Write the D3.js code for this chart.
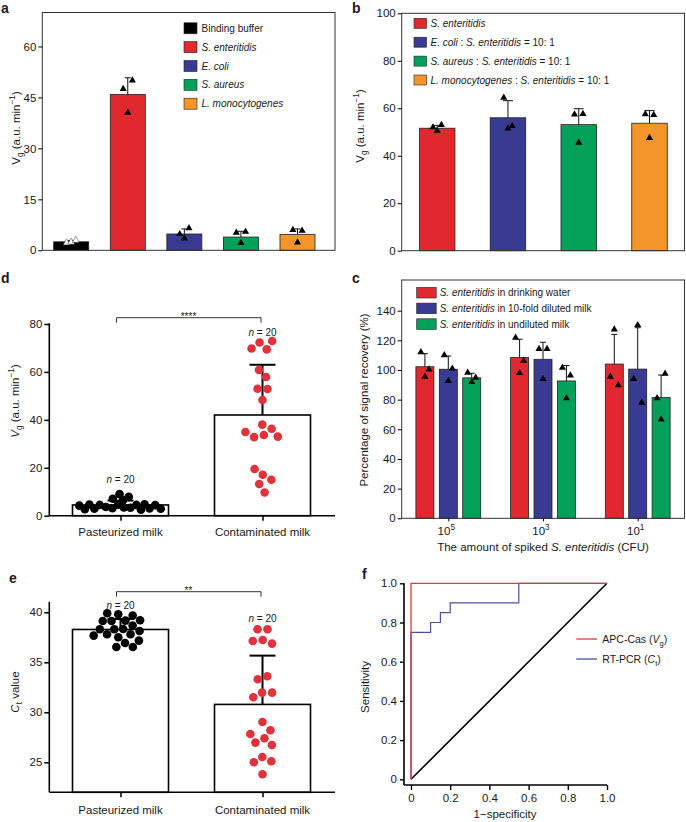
<!DOCTYPE html>
<html><head><meta charset="utf-8">
<script src="https://cdn.jsdelivr.net/npm/d3@7"></script>
<style>
body{margin:0;background:#fff}
svg{display:block}
text{font-family:"Liberation Sans",Arial,Helvetica,sans-serif;fill:#1a1a1a}
</style>
</head><body>
<svg id="fig" width="686" height="822"></svg>
<script>
// ---------------- DATA ----------------
// Panel a
const aCategories = ["Binding buffer", "*S. enteritidis*", "*E. coli*", "*S. aureus*", "*L. monocytogenes*"];
const aMeans = [2.5, 45.9, 4.8, 3.9, 4.7];
const aErrTop = [2.9, 50.8, 6.3, 5.6, 6.3];
const aPoints = [[2.2, 2.4, 2.9], [47.5, 40.5, 50.0], [4.8, 3.5, 6.5], [5.2, 2.2, 5.5], [6.0, 2.3, 5.8]];
const aYTicks = [0, 15, 30, 45, 60];

// Panel b
const bCategories = ["*S. enteritidis*", "*E. coli* : *S. enteritidis* = 10: 1", "*S. aureus* : *S. enteritidis* = 10: 1", "*L. monocytogenes* : *S. enteritidis* = 10: 1"];
const bMeans = [51.6, 56.0, 53.1, 53.7];
const bErrTop = [52.8, 63.2, 59.8, 59.0];
const bPoints = [[52.0, 50.5, 53.0], [64.5, 51.5, 52.5], [57.4, 45.5, 57.6], [57.5, 47.5, 57.2]];
const bYTicks = [0, 20, 40, 60, 80, 100];

// Panel c
const cGroups = ["10^{5}", "10^{3}", "10^{1}"];
const cSeries = ["*S. enteritidis* in drinking water", "*S. enteritidis* in 10-fold diluted milk", "*S. enteritidis* in undiluted milk"];
const cWaterMeans = [102.2, 108.5, 104.0];
const cDilutedMeans = [100.5, 107.2, 100.6];
const cUndilutedMeans = [94.7, 92.6, 81.4];
const cWaterErrTop = [111.0, 120.7, 124.0];
const cDilutedErrTop = [109.4, 118.7, 128.5];
const cUndilutedErrTop = [97.8, 103.0, 96.6];
const cWaterPoints = [[112.0, 95.5, 100.4], [121.8, 98.0, 106.3], [95.5, 127.4, 89.7]];
const cDilutedPoints = [[110.0, 92.6, 101.0], [114.2, 94.0, 114.2], [94.0, 130.3, 78.0]];
const cUndilutedPoints = [[98.2, 91.9, 94.8], [101.6, 80.9, 96.4], [81.0, 66.7, 97.5]];
const cYTicks = [0, 20, 40, 60, 80, 100, 120, 140];

// Panel d
const dCategories = ["Pasteurized milk", "Contaminated milk"];
const dPasteurized = [9.0, 7.9, 7.1, 6.5, 4.8, 4.7, 4.6, 4.5, 4.5, 4.4, 4.2, 3.6, 3.4, 3.3, 3.1, 3.0, 2.9, 2.9, 2.7, 2.5];
const dContaminated = [72.3, 69.4, 69.8, 72.9, 60.8, 57.9, 53.0, 52.9, 48.3, 36.3, 38.0, 33.7, 32.8, 33.0, 34.9, 17.1, 19.5, 15.0, 13.2, 9.7];
const dYTicks = [0, 20, 40, 60, 80];
const dSignificance = "****";

// Panel e
const eCategories = ["Pasteurized milk", "Contaminated milk"];
const ePasteurized = [38.3, 38.33, 39.13, 39.17, 39.13, 39.2, 39.8, 39.67, 39.9, 37.5, 37.8, 36.93, 37.8, 36.53, 36.53, 38.13, 38.3, 38.67, 37.67, 37.17];
const eContaminated = [38.3, 38.3, 37.23, 36.87, 37.13, 33.6, 33.3, 31.97, 31.5, 31.97, 29.03, 28.2, 27.83, 27.4, 26.97, 26.73, 25.53, 25.1, 25.0, 23.8];
const eYTicks = [25, 30, 35, 40];
const eSignificance = "**";

// Panel f (ROC curves)
const fAPC_x = [0, 0, 1];
const fAPC_y = [0, 1, 1];
const fPCR_x = [0, 0, 0.1, 0.1, 0.15, 0.15, 0.2, 0.2, 0.55, 0.55, 1];
const fPCR_y = [0, 0.75, 0.75, 0.8, 0.8, 0.85, 0.85, 0.9, 0.9, 1, 1];
const fRef_x = [0, 1];
const fRef_y = [0, 1];
const fTicks = [0, 0.2, 0.4, 0.6, 0.8, 1.0];
const fLegend = ["APC-Cas (*V*_{g})", "RT-PCR (*C*_{t})"];

// ---------------- STYLE ----------------
const FONT = '"Liberation Sans", Arial, Helvetica, sans-serif';
const RED = "#e1282e", BLUE = "#393b93", GREEN = "#03a05a", ORANGE = "#f3952a";
const TICK_FS = 11.5;

const svg = d3.select("#fig");

// rich text: *italic*, _{sub}, ^{sup}
function rich(textSel, str, fs) {
  const tokens = str.split(/(\*[^*]+\*|_\{[^}]+\}|\^\{[^}]+\})/).filter(s => s.length);
  let shift = 0;
  tokens.forEach(tok => {
    let t = tok, italic = false, target = 0, small = false;
    if (tok.startsWith("*")) { t = tok.slice(1, -1); italic = true; }
    else if (tok.startsWith("_{")) { t = tok.slice(2, -1); target = fs * 0.3; small = true; }
    else if (tok.startsWith("^{")) { t = tok.slice(2, -1); target = -fs * 0.42; small = true; }
    const ts = textSel.append("tspan").text(t);
    if (italic) ts.attr("font-style", "italic");
    if (small) ts.attr("font-size", fs * 0.72);
    if (target - shift !== 0) ts.attr("dy", target - shift);
    shift = target;
  });
  return textSel;
}
function label(x, y, str, fs, anchor, weight) {
  const t = svg.append("text").attr("x", x).attr("y", y).attr("font-size", fs)
    .attr("text-anchor", anchor || "start");
  if (weight) t.attr("font-weight", weight);
  return rich(t, str, fs);
}
function plain(x, y, str, fs, anchor, weight) {
  const t = svg.append("text").attr("x", x).attr("y", y).attr("font-size", fs)
    .attr("text-anchor", anchor || "start").text(str);
  if (weight) t.attr("font-weight", weight);
  return t;
}
function yLabel(x, yc, str, fs) {
  const t = svg.append("text").attr("transform", `translate(${x},${yc}) rotate(-90)`)
    .attr("text-anchor", "middle").attr("font-size", fs);
  return rich(t, str, fs);
}
function leftAxis(x0, y, ticks, size, fmt) {
  const ax = d3.axisLeft(y).tickValues(ticks).tickSize(size).tickSizeOuter(0).tickPadding(2);
  if (fmt) ax.tickFormat(fmt);
  const g = svg.append("g").attr("transform", `translate(${x0},0)`).call(ax);
  g.attr("font-family", FONT).attr("font-size", TICK_FS);
  g.selectAll("text").attr("fill", "#1a1a1a");
  g.select(".domain").remove();
  return g;
}
const tri = d3.symbol(d3.symbolTriangle, 22)();

// Panel letters
plain(1, 13, "a", 14, "start", "bold");
plain(352, 13, "b", 14, "start", "bold");
plain(1, 283, "d", 14, "start", "bold");
plain(352, 283, "c", 14, "start", "bold");
plain(9, 583, "e", 14, "start", "bold");
plain(362, 579, "f", 14, "start", "bold");

// ---------------- PANEL A ----------------
(function () {
  const colors = ["#000000", RED, BLUE, GREEN, ORANGE];
  const x = d3.scalePoint().domain(d3.range(aCategories.length)).range([71.2, 297.5]);
  const y = d3.scaleLinear().domain([0, 70]).range([250.3, 12.5]);
  const bw = 35, L = 42.3, R = 335;
  const g = svg.append("g");
  g.selectAll("rect.bar").data(aMeans).join("rect")
    .attr("x", (d, i) => x(i) - bw / 2).attr("y", d => y(d))
    .attr("width", bw).attr("height", d => y(0) - y(d))
    .attr("fill", (d, i) => colors[i]).attr("stroke", "#222").attr("stroke-width", 0.8);
  g.selectAll("line.err").data(aErrTop).join("line")
    .attr("x1", (d, i) => x(i)).attr("x2", (d, i) => x(i))
    .attr("y1", (d, i) => y(aMeans[i])).attr("y2", d => y(d)).attr("stroke", "#111");
  g.selectAll("line.cap").data(aErrTop).join("line")
    .attr("x1", (d, i) => x(i) - 3).attr("x2", (d, i) => x(i) + 3)
    .attr("y1", d => y(d)).attr("y2", d => y(d)).attr("stroke", "#111");
  aPoints.forEach((pts, i) => {
    g.selectAll(null).data(pts).join("path").attr("d", tri)
      .attr("transform", (v, j) => `translate(${x(i) + (j - 1) * 4.6},${y(v)})`)
      .attr("fill", i === 0 ? "#fff" : "#000").attr("stroke", i === 0 ? "#000" : "none").attr("stroke-width", 0.4);
  });
  g.append("rect").attr("x", L).attr("y", y(70)).attr("width", R - L).attr("height", y(0) - y(70))
    .attr("fill", "none").attr("stroke", "#333").attr("stroke-width", 1);
  leftAxis(L, y, aYTicks, 4);
  aCategories.forEach((c, i) => {
    const yy = 28.3 + i * 18.85;
    svg.append("rect").attr("x", 184).attr("y", yy - 5.5).attr("width", 13).attr("height", 11)
      .attr("fill", colors[i]).attr("stroke", "#222").attr("stroke-width", 0.6);
    label(201.5, yy + 3.6, c, 10);
  });
  yLabel(20, 128, "V_{g} (a.u. min^{−1})", 11.5);
})();

// ---------------- PANEL B ----------------
(function () {
  const colors = [RED, BLUE, GREEN, ORANGE];
  const x = d3.scalePoint().domain(d3.range(bCategories.length)).range([437.2, 649.5]);
  const y = d3.scaleLinear().domain([0, 100]).range([250.7, 13.3]);
  const bw = 35.5, L = 401.7, R = 684.5;
  const g = svg.append("g");
  g.selectAll("rect.bar").data(bMeans).join("rect")
    .attr("x", (d, i) => x(i) - bw / 2).attr("y", d => y(d))
    .attr("width", bw).attr("height", d => y(0) - y(d))
    .attr("fill", (d, i) => colors[i]).attr("stroke", "#222").attr("stroke-width", 0.8);
  g.selectAll("line.err").data(bErrTop).join("line")
    .attr("x1", (d, i) => x(i)).attr("x2", (d, i) => x(i))
    .attr("y1", (d, i) => y(bMeans[i])).attr("y2", d => y(d)).attr("stroke", "#111");
  g.selectAll("line.cap").data(bErrTop).join("line")
    .attr("x1", (d, i) => x(i) - 5).attr("x2", (d, i) => x(i) + 5)
    .attr("y1", d => y(d)).attr("y2", d => y(d)).attr("stroke", "#111");
  bPoints.forEach((pts, i) => {
    g.selectAll(null).data(pts).join("path").attr("d", tri)
      .attr("transform", (v, j) => `translate(${x(i) + (j - 1) * 4.2},${y(v)})`).attr("fill", "#000");
  });
  g.append("rect").attr("x", L).attr("y", y(100)).attr("width", R - L).attr("height", y(0) - y(100))
    .attr("fill", "none").attr("stroke", "#333").attr("stroke-width", 1);
  leftAxis(L, y, bYTicks, 4);
  bCategories.forEach((c, i) => {
    const yy = 23.3 + i * 18.9;
    svg.append("rect").attr("x", 414).attr("y", yy - 5).attr("width", 12.5).attr("height", 10)
      .attr("fill", colors[i]).attr("stroke", "#222").attr("stroke-width", 0.6);
    label(430.5, yy + 3.6, c, 10);
  });
  yLabel(364, 126, "V_{g} (a.u. min^{−1})", 11.5);
})();

// ---------------- PANEL C ----------------
(function () {
  const colors = [RED, BLUE, GREEN];
  const means = [cWaterMeans, cDilutedMeans, cUndilutedMeans];
  const errs = [cWaterErrTop, cDilutedErrTop, cUndilutedErrTop];
  const pts = [cWaterPoints, cDilutedPoints, cUndilutedPoints];
  const gx = d3.scalePoint().domain(d3.range(cGroups.length)).range([448.3, 637.7]);
  const sx = d3.scalePoint().domain(d3.range(cSeries.length)).range([-23.4, 23.4]);
  const y = d3.scaleLinear().domain([0, 160]).range([518.3, 281]);
  const bw = 18, L = 401.7, R = 684.5, T = 280;
  const g = svg.append("g");
  means.forEach((arr, s) => {
    g.selectAll(null).data(arr).join("rect")
      .attr("x", (d, i) => gx(i) + sx(s) - bw / 2).attr("y", d => y(d))
      .attr("width", bw).attr("height", d => y(0) - y(d))
      .attr("fill", colors[s]).attr("stroke", "#222").attr("stroke-width", 0.8);
    g.selectAll(null).data(errs[s]).join("line")
      .attr("x1", (d, i) => gx(i) + sx(s)).attr("x2", (d, i) => gx(i) + sx(s))
      .attr("y1", (d, i) => y(arr[i])).attr("y2", d => y(d)).attr("stroke", "#111");
    g.selectAll(null).data(errs[s]).join("line")
      .attr("x1", (d, i) => gx(i) + sx(s) - 3).attr("x2", (d, i) => gx(i) + sx(s) + 3)
      .attr("y1", d => y(d)).attr("y2", d => y(d)).attr("stroke", "#111");
    pts[s].forEach((p, i) => {
      g.selectAll(null).data(p).join("path").attr("d", tri)
        .attr("transform", (v, j) => `translate(${gx(i) + sx(s) + (j - 1) * 4},${y(v)})`).attr("fill", "#000");
    });
  });
  g.append("rect").attr("x", L).attr("y", T).attr("width", R - L).attr("height", y(0) - T)
    .attr("fill", "none").attr("stroke", "#333").attr("stroke-width", 1);
  leftAxis(L, y, cYTicks, 4);
  const xa = svg.append("g").attr("transform", `translate(0,${y(0)})`)
    .call(d3.axisBottom(gx).tickSize(3).tickSizeOuter(0).tickFormat(() => ""));
  xa.select(".domain").remove();
  cGroups.forEach((c, i) => label(gx(i) - 2, 535, c, TICK_FS, "middle"));
  cSeries.forEach((c, i) => {
    const yy = 292.7 + i * 15.7;
    svg.append("rect").attr("x", 416.7).attr("y", yy - 5.3).attr("width", 19.5).attr("height", 10.6)
      .attr("fill", colors[i]).attr("stroke", "#222").attr("stroke-width", 0.6);
    label(439.7, yy + 3.6, c, 10);
  });
  label(543, 551, "The amount of spiked *S. enteritidis* (CFU)", 11.5, "middle");
  yLabel(368, 400, "Percentage of signal recovery (%)", 11.5);
})();

// ---------------- beeswarm helper ----------------
function swarm(values, cx, y, r, pull) {
  const nodes = values.map((v, i) => ({ v, x: cx + (i % 2 ? 1 : -1) * (0.5 + i * 0.37), y: y(v), fy: y(v) }));
  const sim = d3.forceSimulation(nodes)
    .force("x", d3.forceX(cx).strength(pull))
    .force("c", d3.forceCollide(r).iterations(3)).stop();
  for (let k = 0; k < 400; k++) sim.tick();
  return nodes;
}

function dotPanel(cats, groupVals, y, yTicks, topY, yTitle, yTitleY, nLabelY, bracketY, stars, catY, radii) {
  const L = 49.3, R = 335;
  const x = d3.scalePoint().domain(d3.range(cats.length)).range([120.5, 262.5]);
  const bw = 96;
  const g = svg.append("g");
  const means = groupVals.map(v => d3.mean(v));
  const sds = groupVals.map(v => d3.deviation(v));
  const y0 = y.range()[0];
  g.selectAll("rect.bar").data(means).join("rect")
    .attr("x", (d, i) => x(i) - bw / 2).attr("y", d => y(d))
    .attr("width", bw).attr("height", d => y0 - y(d))
    .attr("fill", "#fff").attr("stroke", "#000").attr("stroke-width", 1.6);
  g.selectAll("line.err").data(means).join("line")
    .attr("x1", (d, i) => x(i)).attr("x2", (d, i) => x(i))
    .attr("y1", d => y(d)).attr("y2", (d, i) => y(d + sds[i])).attr("stroke", "#000").attr("stroke-width", 2);
  g.selectAll("line.cap").data(means).join("line")
    .attr("x1", (d, i) => x(i) - 13).attr("x2", (d, i) => x(i) + 13)
    .attr("y1", (d, i) => y(d + sds[i])).attr("y2", (d, i) => y(d + sds[i])).attr("stroke", "#000").attr("stroke-width", 2);
  const dotColors = ["#000", "#e0323a"];
  groupVals.forEach((vals, i) => {
    const nodes = swarm(vals, x(i), y, radii[i], 0.08);
    g.selectAll(null).data(nodes).join("circle")
      .attr("cx", d => d.x).attr("cy", d => d.y).attr("r", 4.3).attr("fill", dotColors[i]);
  });
  svg.append("line").attr("x1", L).attr("x2", L).attr("y1", topY).attr("y2", y0).attr("stroke", "#000").attr("stroke-width", 1.6);
  svg.append("line").attr("x1", L).attr("x2", R).attr("y1", y0).attr("y2", y0).attr("stroke", "#000").attr("stroke-width", 1.6);
  const ga = leftAxis(L, y, yTicks, 5);
  ga.selectAll("line").attr("stroke-width", 1.5);
  const xa = svg.append("g").attr("transform", `translate(0,${y0})`)
    .call(d3.axisBottom(x).tickSize(5).tickSizeOuter(0).tickFormat(() => ""));
  xa.select(".domain").remove();
  xa.selectAll("line").attr("stroke-width", 1.5);
  cats.forEach((c, i) => label(x(i), catY, c, 11.5, "middle"));
  nLabelY.forEach((ny, i) => label(x(i), ny, "*n* = " + groupVals[i].length, 10, "middle"));
  svg.append("path").attr("d", `M${x(0) - 4},${bracketY + 5}V${bracketY}H${x(1) - 1.5}V${bracketY + 5}`)
    .attr("fill", "none").attr("stroke", "#333").attr("stroke-width", 1);
  plain((x(0) + x(1)) / 2 - 3, bracketY + 2, stars, 10, "middle");
  yLabel(19, yTitleY, yTitle, 11.5);
}

// ---------------- PANEL D ----------------
dotPanel(dCategories, [dPasteurized, dContaminated],
  d3.scaleLinear().domain([0, 80]).range([515.7, 324]), dYTicks, 323.3,
  "*V*_{g} (a.u. min^{−1})", 401, [482.5, 335.5], 317.7, dSignificance, 536, [3.3, 5.0]);

// ---------------- PANEL E ----------------
dotPanel(eCategories, [ePasteurized, eContaminated],
  d3.scaleLinear().domain([22, 41]).range([792.3, 602.3]), eYTicks, 601.7,
  "*C*_{t} value", 692, [609.3, 621.7], 591.7, eSignificance, 814, [4.4, 5.0]);

// ---------------- PANEL F ----------------
(function () {
  const x = d3.scaleLinear().domain([0, 1]).range([411, 607]);
  const y = d3.scaleLinear().domain([0, 1]).range([779.3, 583.3]);
  const axX = 404, axY = 785;
  const fmt = t => t === 0 ? "0" : d3.format(".1f")(t);
  const line = d3.line().x(d => x(d[0])).y(d => y(d[1]));
  svg.append("path").attr("d", line(d3.zip(fRef_x, fRef_y))).attr("fill", "none").attr("stroke", "#000").attr("stroke-width", 1.6);
  svg.append("path").attr("d", line(d3.zip(fPCR_x, fPCR_y))).attr("fill", "none").attr("stroke", "#4b4f9f").attr("stroke-width", 1.2);
  svg.append("path").attr("d", line(d3.zip(fAPC_x, fAPC_y))).attr("fill", "none").attr("stroke", "#e2383d").attr("stroke-width", 1.3);
  svg.append("line").attr("x1", axX).attr("x2", axX).attr("y1", y(1)).attr("y2", axY).attr("stroke", "#000").attr("stroke-width", 1.6);
  svg.append("line").attr("x1", axX).attr("x2", x(1)).attr("y1", axY).attr("y2", axY).attr("stroke", "#000").attr("stroke-width", 1.6);
  const ga = svg.append("g").attr("transform", `translate(${axX},0)`)
    .call(d3.axisLeft(y).tickValues(fTicks).tickFormat(fmt).tickSize(4).tickSizeOuter(0).tickPadding(3));
  ga.select(".domain").remove();
  ga.attr("font-family", FONT).attr("font-size", TICK_FS);
  ga.selectAll("line").attr("stroke-width", 1.4);
  const gb = svg.append("g").attr("transform", `translate(0,${axY})`)
    .call(d3.axisBottom(x).tickValues(fTicks).tickFormat(fmt).tickSize(5).tickSizeOuter(0).tickPadding(4));
  gb.select(".domain").remove();
  gb.attr("font-family", FONT).attr("font-size", TICK_FS);
  gb.selectAll("line").attr("stroke-width", 1.4);
  const lc = ["#e2383d", "#4b4f9f"];
  fLegend.forEach((c, i) => {
    const yy = 639 + i * 20;
    svg.append("line").attr("x1", 576.3).attr("x2", 597).attr("y1", yy).attr("y2", yy).attr("stroke", lc[i]).attr("stroke-width", 1.3);
    label(602.3, yy + 3.8, c, 10.5);
  });
  label(505, 818, "1−specificity", 11.5, "middle");
  yLabel(369, 687, "Sensitivity", 11.5);
})();
</script>
</body></html>
